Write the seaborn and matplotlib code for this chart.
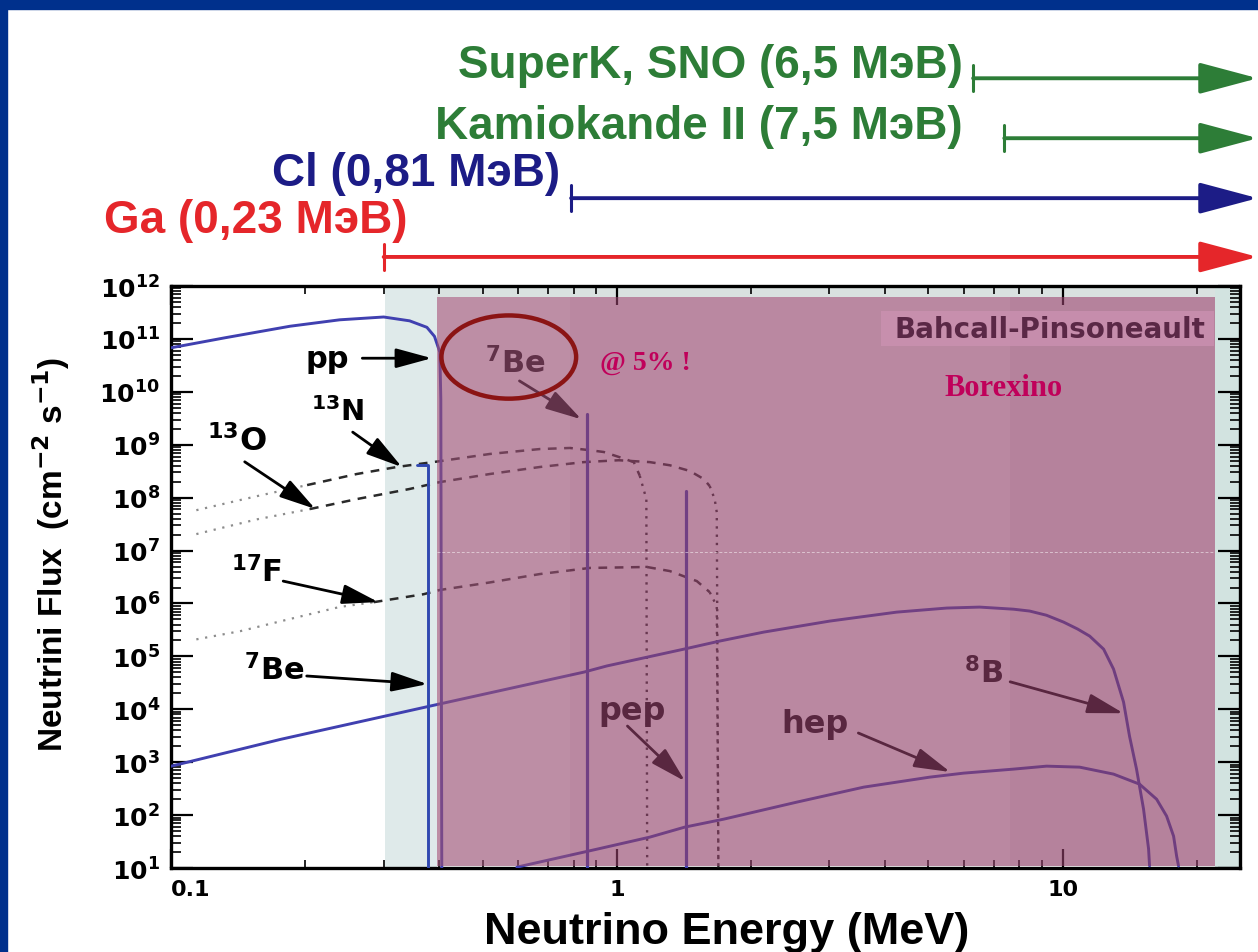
import numpy as np
import matplotlib
matplotlib.use("Agg")
import matplotlib.pyplot as plt
from matplotlib import ticker
from matplotlib.patches import Ellipse, Rectangle
import seaborn as sns

# Solar neutrino spectra
# energy in MeV, flux in cm^-2 s^-1 (per MeV for the continuous ones)
PP_E = [0.100, 0.132, 0.185, 0.239, 0.300, 0.343, 0.375, 0.390, 0.401, 0.403, 0.405]
PP_F = [6.8e10, 1.05e11, 1.74e11, 2.3e11, 2.6e11, 2.2e11, 1.66e11, 1.12e11, 5.6e10, 7.2e9, 1e1]

B8_E = [0.100, 0.176, 0.381, 0.844, 0.950, 1.413, 1.702, 2.136, 3.003, 4.245, 5.495, 6.515,
        7.766, 8.433, 9.20, 10.05, 10.80, 11.50, 12.36, 13.01, 13.70, 14.13, 14.65, 15.19, 15.59, 15.67]
B8_F = [8.4e2, 2.7e3, 1.15e4, 5.05e4, 6.6e4, 1.37e5, 1.95e5, 2.88e5, 4.65e5, 6.87e5, 8.2e5, 8.55e5,
        7.8e5, 7.2e5, 6.0e5, 4.45e5, 3.3e5, 2.42e5, 1.37e5, 5.75e4, 1.37e4, 3.1e3, 7.4e2, 1.3e2, 2.3e1, 1.1e1]

HEP_E = [0.597, 0.902, 1.186, 1.420, 1.738, 2.533, 3.579, 5.031, 5.998, 7.766, 9.207, 10.92,
         13.01, 14.88, 16.25, 17.11, 17.74, 18.02, 18.20]
HEP_F = [1.04e1, 2.27e1, 3.84e1, 5.93e1, 8.4e1, 1.76e2, 3.38e2, 5.22e2, 6.22e2, 7.41e2, 8.43e2, 8.07e2,
         5.96e2, 3.85e2, 2.0e2, 9.6e1, 4.0e1, 1.68e1, 1.09e1]

N13_E = [0.114, 0.156, 0.202, 0.261, 0.321, 0.401, 0.519, 0.672, 0.785, 0.870, 0.935, 1.016,
         1.092, 1.126, 1.165, 1.170]
N13_F = [5.8e7, 1.07e8, 1.73e8, 2.8e8, 3.8e8, 4.9e8, 6.7e8, 8.3e8, 8.7e8, 7.9e8, 7.3e8, 5.8e8,
         4.7e8, 2.6e8, 9.4e7, 1e1]

O15_E = [0.114, 0.156, 0.205, 0.261, 0.343, 0.401, 0.519, 0.672, 0.843, 1.010, 1.186, 1.315,
         1.458, 1.567, 1.616, 1.658, 1.676, 1.690]
O15_F = [2.05e7, 3.9e7, 6.1e7, 9.4e7, 1.46e8, 1.97e8, 2.8e8, 3.8e8, 4.7e8, 5.1e8, 4.7e8, 4.1e8,
         3.2e8, 2.25e8, 1.66e8, 9.4e7, 5.3e7, 1e1]

F17_E = [0.114, 0.143, 0.185, 0.239, 0.285, 0.369, 0.401, 0.519, 0.672, 0.870, 1.168, 1.315,
         1.512, 1.616, 1.676, 1.690]
F17_F = [2.1e5, 3.0e5, 5.1e5, 8.6e5, 1.06e6, 1.5e6, 1.8e6, 2.5e6, 3.6e6, 4.7e6, 4.9e6, 4.1e6,
         2.65e6, 1.64e6, 8.9e5, 1e1]

# monoenergetic lines: 7Be (0.86 MeV) and pep
LINE_E = [0.857, 1.43]
LINE_F = [3.8e9, 1.33e8]
# 7Be 0.38 MeV line with its little hook on top
BE7_LOW_E = [0.356, 0.377, 0.377]
BE7_LOW_F = [4.2e8, 4.2e8, 1e1]

# detector thresholds (where the arrows start in the picture)
DETECTORS = ["SuperK, SNO (6,5 MэВ)", "Kamiokande II (7,5 MэВ)", "Cl (0,81 MэВ)", "Ga (0,23 MэВ)"]
DET_START = [6.3, 7.4, 0.79, 0.30]
DET_COLORS = ["#2d7d37", "#2d7d37", "#1c1c86", "#e5262a"]

NAVY = "#00308c"
CURVE = "#4040b0"

sns.set_theme(style="ticks")
plt.rcParams.update({
    "font.family": ["DejaVu Sans"],
    "font.weight": "bold",
    "axes.labelweight": "bold",
    "axes.labelcolor": "black",
    "mathtext.fontset": "dejavusans",
    "mathtext.default": "bf",
    "axes.linewidth": 2.4,
    "axes.edgecolor": "black",
    "xtick.direction": "in", "ytick.direction": "in",
    "xtick.top": True, "ytick.right": True,
    "xtick.major.size": 14, "xtick.minor.size": 6,
    "ytick.major.size": 16, "ytick.minor.size": 7,
    "xtick.major.width": 1.6, "xtick.minor.width": 1.2,
    "ytick.major.width": 1.6, "ytick.minor.width": 1.2,
    "xtick.color": "black", "ytick.color": "black",
})

fig = plt.figure(figsize=(12.58, 9.53), dpi=100, facecolor="white")
fig.patches.append(Rectangle((0, 0.9895), 1, 0.0105, transform=fig.transFigure, color=NAVY, zorder=0))
fig.patches.append(Rectangle((0, 0), 0.0056, 1, transform=fig.transFigure, color=NAVY, zorder=0))
ax = fig.add_axes([0.1359, 0.0881, 0.8498, 0.6107])
ax.set_xscale("log")
ax.set_yscale("log")
ax.set_xlim(0.1, 25)
ax.set_ylim(10, 1e12)


def curve(e, f, **kw):
    sns.lineplot(x=e, y=f, ax=ax, sort=False, estimator=None, **kw)


def cno(e, f, k0, k1):
    # faint dotted start, dashed body, dotted drop at the end point
    curve(e[:k0 + 1], f[:k0 + 1], color="#8c8c8c", lw=1.6, linestyle=(0, (1, 3)), zorder=3)
    curve(e[k0:k1 + 1], f[k0:k1 + 1], color="#2a2a2a", lw=1.8, linestyle=(0, (3.5, 3)), zorder=3)
    curve(e[k1:], f[k1:], color="#2a2a2a", lw=1.7, linestyle=(0, (1, 2.5)), zorder=3)


# background bands
ax.axvspan(0.302, 0.395, color="#dfeaea", lw=0, zorder=0.5)
ax.axvspan(0.395, 25, ymin=0.981, ymax=1, color="#d9e1e0", lw=0, zorder=0.5)
ax.axvspan(21.97, 25, color="#d2e3e0", lw=0, zorder=0.5)

# spectra
curve(PP_E, PP_F, color=CURVE, lw=2.1, zorder=4)
curve(B8_E, B8_F, color=CURVE, lw=2.1, zorder=4)
curve(HEP_E, HEP_F, color=CURVE, lw=2.1, zorder=4)
curve(BE7_LOW_E, BE7_LOW_F, color="#3048b0", lw=2.1, zorder=4)
for e, f in zip(LINE_E, LINE_F):
    curve([e, e], [10, f], color=CURVE, lw=2.3, zorder=4)
cno(N13_E, N13_F, 2, 13)
cno(O15_E, O15_F, 2, 14)
cno(F17_E, F17_F, 4, 13)

# labels with arrows (axes fraction)
LABELS = [
    ("pp", (0.146, 0.875), (0.179, 0.876), (0.244, 0.876), 22),
    ("$^{13}$N", (0.156, 0.785), (0.170, 0.749), (0.216, 0.689), 21),
    ("$^{13}$O", (0.062, 0.734), (0.069, 0.698), (0.135, 0.617), 23),
    ("$^{17}$F", (0.080, 0.510), (0.105, 0.493), (0.194, 0.457), 22),
    ("$^{7}$Be", (0.097, 0.342), (0.127, 0.330), (0.240, 0.316), 22),
    ("$^{7}$Be", (0.322, 0.869), (0.326, 0.837), (0.384, 0.771), 22),
    ("pep", (0.431, 0.270), (0.427, 0.244), (0.481, 0.149), 23),
    ("hep", (0.602, 0.249), (0.643, 0.232), (0.729, 0.165), 23),
    ("$^{8}$B", (0.760, 0.337), (0.785, 0.320), (0.891, 0.266), 22),
]
for txt, pos, tail, head, size in LABELS:
    ax.text(*pos, txt, transform=ax.transAxes, ha="center", va="center",
            fontsize=size, color="black", zorder=4)
    ax.annotate("", xy=head, xytext=tail, xycoords="axes fraction", textcoords="axes fraction",
                arrowprops=dict(arrowstyle="-|>,head_length=1.1,head_width=0.3", color="black",
                                lw=2, mutation_scale=20, shrinkA=0, shrinkB=0), zorder=4)

# Borexino window (semi transparent, tints everything below it)
ax.axvspan(0.395, 21.97, ymin=0.003, ymax=0.981, color="#904068", alpha=0.62, lw=0, zorder=5)
ax.axvspan(0.395, 0.785, ymin=0.003, ymax=0.981, color="white", alpha=0.05, lw=0, zorder=5.1)
ax.axvspan(7.62, 21.97, ymin=0.003, ymax=0.981, color="#5a1a40", alpha=0.05, lw=0, zorder=5.1)
ax.axhline(9.3e6, xmin=0.249, xmax=0.977, color="white", lw=0.7, alpha=0.5,
           linestyle=(0, (3, 2)), zorder=5.2)

ax.add_patch(Rectangle((0.664, 0.897), 0.312, 0.060, transform=ax.transAxes,
                       color="#cc92b2", alpha=0.75, lw=0, zorder=6))
ax.text(0.822, 0.927, "Bahcall-Pinsoneault", transform=ax.transAxes, ha="center", va="center",
        fontsize=20, color="#5a2846", zorder=7)
ax.add_patch(Ellipse((0.316, 0.878), 0.126, 0.143, transform=ax.transAxes, fill=False,
                     ec="#8b1414", lw=3.2, zorder=7))
ax.text(0.444, 0.869, "@ 5% !", transform=ax.transAxes, ha="center", va="center",
        fontsize=20, family="Liberation Serif", color="#c0005a", zorder=7)
ax.text(0.779, 0.825, "Borexino", transform=ax.transAxes, ha="center", va="center",
        fontsize=22, family="Liberation Serif", color="#c0005a", zorder=7)

# detector thresholds above the plot
trans = ax.get_xaxis_transform()
ARROW_Y = [1.357, 1.254, 1.151, 1.050]
TEXT_POS = [(5.98, 1.359), (5.96, 1.254), (0.746, 1.1735), (0.340, 1.0928)]
for name, x0, c, ay, (tx, ty) in zip(DETECTORS, DET_START, DET_COLORS, ARROW_Y, TEXT_POS):
    ax.text(tx, ty, name, transform=trans, ha="right", va="baseline", fontsize=33,
            family="Liberation Sans", color=c)
    ax.annotate("", xy=(27.4, ay), xytext=(x0, ay), xycoords=trans, textcoords=trans,
                arrowprops=dict(arrowstyle="-|>,head_length=1.8,head_width=0.48", color=c,
                                lw=2.8, mutation_scale=20, shrinkA=0, shrinkB=0),
                annotation_clip=False)
    ax.plot([x0, x0], [ay - 0.022, ay + 0.022], transform=trans, color=c, lw=2.2, clip_on=False)

# axes
ax.yaxis.set_major_locator(ticker.LogLocator(base=10, numticks=20))
ax.yaxis.set_minor_locator(ticker.LogLocator(base=10, subs=np.arange(2, 10), numticks=100))
ax.yaxis.set_major_formatter(ticker.FuncFormatter(lambda v, _: r"$10^{%d}$" % round(np.log10(v))))
ax.yaxis.set_minor_formatter(ticker.NullFormatter())
ax.set_xticks([0.1, 1, 10])
ax.xaxis.set_major_formatter(ticker.FuncFormatter(lambda v, _: "%g" % v))
ax.xaxis.set_minor_formatter(ticker.NullFormatter())
ax.tick_params(axis="y", which="major", labelsize=18, pad=8)
ax.tick_params(axis="x", which="major", labelsize=16, pad=8)
ax.get_xticklabels()[0].set_horizontalalignment("left")

ax.set_xlabel("Neutrino Energy (MeV)", fontsize=32.5, family="Liberation Sans",
              fontweight="bold", color="black")
ax.xaxis.set_label_coords(0.520, -0.074)
ax.set_ylabel("Neutrini Flux  (cm$^{-2}$ s$^{-1}$)", fontsize=24, family="Liberation Sans",
              fontweight="bold", color="black")
ax.yaxis.set_label_coords(-0.093, 0.54)

fig.savefig("out.png", dpi=100)
